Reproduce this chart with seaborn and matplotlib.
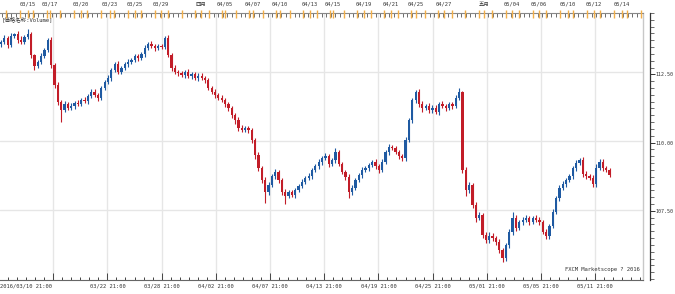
import numpy as np
import pandas as pd
import matplotlib
matplotlib.use("Agg")
import matplotlib.pyplot as plt
import matplotlib.transforms as mtransforms
import seaborn as sns

# ---------------- data (USD/JPY 4h candles) ----------------
first_open = 113.50
close = [
    113.59, 113.73, 113.48, 113.81, 113.88, 113.66, 113.59, 113.77, 113.88, 113.12,
    112.72, 112.86, 113.08, 113.30, 113.66, 112.75, 112.03, 111.41, 111.12, 111.34,
    111.20, 111.27, 111.38, 111.34, 111.49, 111.45, 111.63, 111.78, 111.67, 111.56,
    111.92, 112.14, 112.28, 112.57, 112.79, 112.50, 112.65, 112.79, 112.86, 112.93,
    113.08, 113.01, 113.15, 113.37, 113.51, 113.44, 113.37, 113.44, 113.41, 113.73,
    113.12, 112.65, 112.50, 112.46, 112.39, 112.50, 112.36, 112.43, 112.28, 112.36,
    112.28, 112.21, 111.92, 111.78, 111.67, 111.56, 111.49, 111.34, 111.20, 110.94,
    110.76, 110.47, 110.40, 110.47, 110.40, 110.04, 109.49, 109.02, 108.59, 108.15,
    108.41, 108.73, 108.88, 108.59, 108.15, 108.01, 108.15, 108.04, 108.22, 108.37,
    108.52, 108.66, 108.73, 108.95, 109.09, 109.24, 109.38, 109.46, 109.17, 109.31,
    109.60, 109.17, 108.88, 108.70, 108.15, 108.30, 108.59, 108.77, 108.95, 109.02,
    109.13, 109.24, 109.09, 108.95, 109.24, 109.60, 109.78, 109.75, 109.60, 109.46,
    109.38, 110.04, 110.76, 111.49, 111.78, 111.34, 111.20, 111.27, 111.12, 111.20,
    111.05, 111.34, 111.27, 111.20, 111.34, 111.27, 111.56, 111.78, 108.95, 108.22,
    108.41, 107.68, 107.21, 107.32, 106.59, 106.41, 106.56, 106.49, 106.34, 106.05,
    105.76, 106.23, 106.70, 107.21, 106.85, 107.07, 107.14, 107.21, 107.07, 107.21,
    107.14, 107.07, 106.70, 106.56, 106.92, 107.43, 107.93, 108.30, 108.44, 108.59,
    108.73, 109.02, 109.20, 109.31, 108.81, 108.73, 108.66, 108.44, 109.02, 109.24,
    109.02, 108.95, 108.77,
]
# wick lengths above / below the body, in hundredths of a yen
up_wick = [
    8, 10, 6, 12, 5, 9, 14, 7, 17, 6,
    5, 8, 10, 6, 7, 12, 9, 10, 8, 12,
    7, 9, 6, 10, 8, 12, 6, 9, 11, 7,
    8, 6, 10, 7, 9, 12, 8, 6, 10, 7,
    9, 8, 6, 10, 7, 12, 9, 6, 8, 7,
    10, 8, 12, 6, 9, 7, 10, 8, 6, 9,
    11, 7, 9, 8, 12, 6, 10, 8, 9, 7,
    8, 10, 12, 9, 7, 8, 6, 10, 8, 9,
    12, 9, 10, 7, 8, 10, 9, 7, 6, 8,
    9, 7, 10, 8, 6, 9, 8, 12, 7, 9,
    14, 9, 8, 7, 10, 9, 8, 7, 10, 8,
    9, 7, 10, 8, 9, 7, 12, 8, 7, 9,
    8, 10, 9, 8, 7, 12, 10, 8, 9, 11,
    9, 8, 10, 7, 9, 8, 10, 14, 4, 12,
    10, 8, 12, 9, 8, 10, 14, 9, 8, 10,
    6, 9, 10, 20, 12, 8, 10, 12, 9, 8,
    10, 9, 8, 12, 9, 10, 8, 9, 10, 8,
    9, 8, 10, 7, 12, 9, 8, 10, 14, 9,
    10, 8, 6,
]
down_wick = [
    10, 7, 12, 8, 6, 10, 9, 7, 8, 10,
    14, 9, 7, 8, 6, 9, 10, 12, 43, 8,
    9, 7, 10, 6, 8, 7, 10, 9, 8, 12,
    7, 9, 6, 10, 8, 7, 9, 8, 10, 6,
    8, 10, 7, 9, 6, 8, 10, 7, 9, 8,
    9, 12, 8, 10, 7, 9, 8, 10, 7, 9,
    8, 10, 7, 9, 10, 8, 7, 9, 12, 10,
    14, 10, 8, 9, 12, 10, 14, 10, 12, 40,
    10, 8, 9, 10, 12, 30, 9, 8, 10, 7,
    8, 9, 7, 10, 8, 9, 10, 8, 12, 9,
    10, 9, 8, 10, 22, 10, 9, 8, 10, 7,
    9, 8, 10, 12, 9, 8, 10, 9, 8, 10,
    12, 10, 8, 9, 10, 12, 14, 8, 10, 9,
    8, 10, 9, 12, 8, 10, 9, 8, 10, 20,
    12, 10, 14, 9, 10, 12, 9, 10, 12, 10,
    14, 10, 9, 10, 12, 8, 10, 9, 10, 8,
    9, 10, 8, 12, 10, 8, 9, 10, 8, 9,
    8, 10, 9, 8, 12, 10, 9, 12, 10, 8,
    9, 8, 6,
]
price_ticks = [107.5, 110.0, 112.5]
price_labels = ["107.50", "110.00", "112.50"]
bottom_labels = ["2016/03/10 21:00", "03/22 21:00", "03/28 21:00", "04/02 21:00",
                 "04/07 21:00", "04/13 21:00", "04/19 21:00", "04/25 21:00",
                 "05/01 21:00", "05/05 21:00", "05/11 21:00"]
top_labels = ["03/15", "03/17", "03/20", "03/23", "03/25", "03/29", "四月", "04/05",
              "04/07", "04/10", "04/13", "04/15", "04/19", "04/21", "04/25", "04/27",
              "五月", "05/04", "05/06", "05/10", "05/12", "05/14"]
header_text = "[価格名称:Volume]"
footer_text = "FXCM Marketscope ? 2016"

# ---------------- layout helpers (pixel geometry of the picture) ----------------
W, H = 675, 294
BAR_PX = 3.344          # pixel distance between candles
GRID_PX = 54.2          # pixel distance between vertical grid lines
def px2x(p):            # pixel column -> candle index
    return (p - 1) / BAR_PX
def py2price(p):        # pixel row -> price
    return 112.5 - (p - 72) / 27.6

grid_px = [-1 + GRID_PX * k for k in range(0, 12)]
bottom_label_px = [0] + grid_px[2:12]
top_label_px = [28, 50, 81, 110, 135, 161, 201, 225, 253, 280, 310, 333, 364, 391,
                416, 444, 484, 512, 539, 568, 594, 622]

df = pd.DataFrame({"close": close})
df["open"] = df["close"].shift(1).fillna(first_open)
body_top = df[["open", "close"]].max(axis=1)
body_bot = df[["open", "close"]].min(axis=1)
df["high"] = body_top + np.array(up_wick) / 100
df["low"] = body_bot - np.array(down_wick) / 100
df["bar"] = np.arange(len(df))
df["dir"] = np.where(df["close"] >= df["open"], "up", "down")

BLUE, RED = "#1f5aa2", "#c21d28"
GRID = "#e6e6e6"
AX_DARK = "#444444"

sns.set_theme(style="white")
plt.rcParams["font.family"] = ["DejaVu Sans Mono", "Noto Sans CJK JP"]

fig = plt.figure(figsize=(W / 100, H / 100), dpi=100)
fig.patch.set_facecolor("white")
top_px, bot_px, right_px = 13, 280, 643
ax = fig.add_axes([0, (H - bot_px) / H, right_px / W, (bot_px - top_px) / H])
ax.set_facecolor("white")
ax.set_xlim(px2x(0), px2x(right_px))
ax.set_ylim(py2price(bot_px), py2price(top_px))

# grid
for p in grid_px[1:]:
    ax.axvline(px2x(p), color=GRID, lw=1, zorder=0)
for p in price_ticks:
    ax.axhline(p, color=GRID, lw=1, zorder=0)

# candles
pal = {"up": BLUE, "down": RED}
colors = df["dir"].map(pal).tolist()
ax.vlines(df["bar"], df["low"], df["high"], colors=colors, lw=0.8, zorder=2)
ax.bar(df["bar"], (body_top - body_bot).clip(lower=0.025), bottom=body_bot,
       width=0.68, color=colors, linewidth=0, zorder=3)

# spines
ax.spines["left"].set_visible(False)
ax.spines["right"].set_color("#c8c8c8")
ax.spines["right"].set_linewidth(1)
ax.spines["top"].set_color("#888888")
ax.spines["top"].set_linewidth(0.8)
ax.spines["bottom"].set_color("#666666")
ax.spines["bottom"].set_linewidth(0.8)
ax.set_xticks([])
ax.set_yticks([])

trans_xa = mtransforms.blended_transform_factory(ax.transData, ax.transAxes)
ah = bot_px - top_px
# bottom ruler ticks
small = []
for base in grid_px:
    for j in range(1, 6):
        if base + GRID_PX / 6 * j < right_px:
            small.append(base + GRID_PX / 6 * j)
ax.vlines([px2x(p) for p in grid_px if p >= 0], 0, 7 / ah, colors=AX_DARK, lw=0.7,
          transform=trans_xa, clip_on=False)
ax.vlines([px2x(p) for p in small], 0, 3 / ah, colors=AX_DARK, lw=0.7,
          transform=trans_xa, clip_on=False)

# top ruler ticks
gray_ticks = np.arange(2, right_px, 4.5)
ax.vlines([px2x(p) for p in gray_ticks], 1 - 4 / ah, 1, colors="#555555", lw=0.6,
          transform=trans_xa, clip_on=False)
orange_ticks = list(np.arange(6, right_px, 13.5)) + top_label_px
ax.vlines([px2x(p) for p in orange_ticks], 1 - 5 / ah, 1 + 3 / ah, colors="#f2ae48", lw=1.0,
          transform=trans_xa, clip_on=False, zorder=4)

# right price axis
axr = ax.twinx()
axr.set_ylim(ax.get_ylim())
for s in ["left", "top", "bottom"]:
    axr.spines[s].set_visible(False)
axr.spines["right"].set_position(("outward", 5))
axr.spines["right"].set_color("#333333")
axr.spines["right"].set_linewidth(0.9)
axr.set_yticks(price_ticks)
axr.set_yticklabels(price_labels)
axr.set_yticks(np.arange(105.0, 114.76, 0.25), minor=True)
axr.tick_params(axis="y", which="major", length=3.5, width=0.7, color="#333333",
                labelsize=3.6, pad=0.8, labelcolor="#333333", right=True, direction="out")
axr.tick_params(axis="y", which="minor", length=3, width=0.6, color="#555555", right=True)

# texts
trans_xf = mtransforms.blended_transform_factory(ax.transData, fig.transFigure)
for i, (lab, p) in enumerate(zip(bottom_labels, bottom_label_px)):
    ax.text(px2x(p), (H - 286) / H, lab, transform=trans_xf, fontsize=3.9,
            color="#333333", ha="left" if i == 0 else "center", va="center")
for lab, p in zip(top_labels, top_label_px):
    ax.text(px2x(p), (H - 4) / H, lab, transform=trans_xf, fontsize=3.9,
            color="#333333", ha="center", va="center")
ax.text(px2x(2), (H - 19) / H, header_text, transform=trans_xf, fontsize=4.0,
        color="#333333", ha="left", va="center")
ax.text(px2x(640), (H - 270) / H, footer_text, transform=trans_xf, fontsize=4.0,
        color="#333333", ha="right", va="center")

fig.savefig("out.png", dpi=100, facecolor="white")
